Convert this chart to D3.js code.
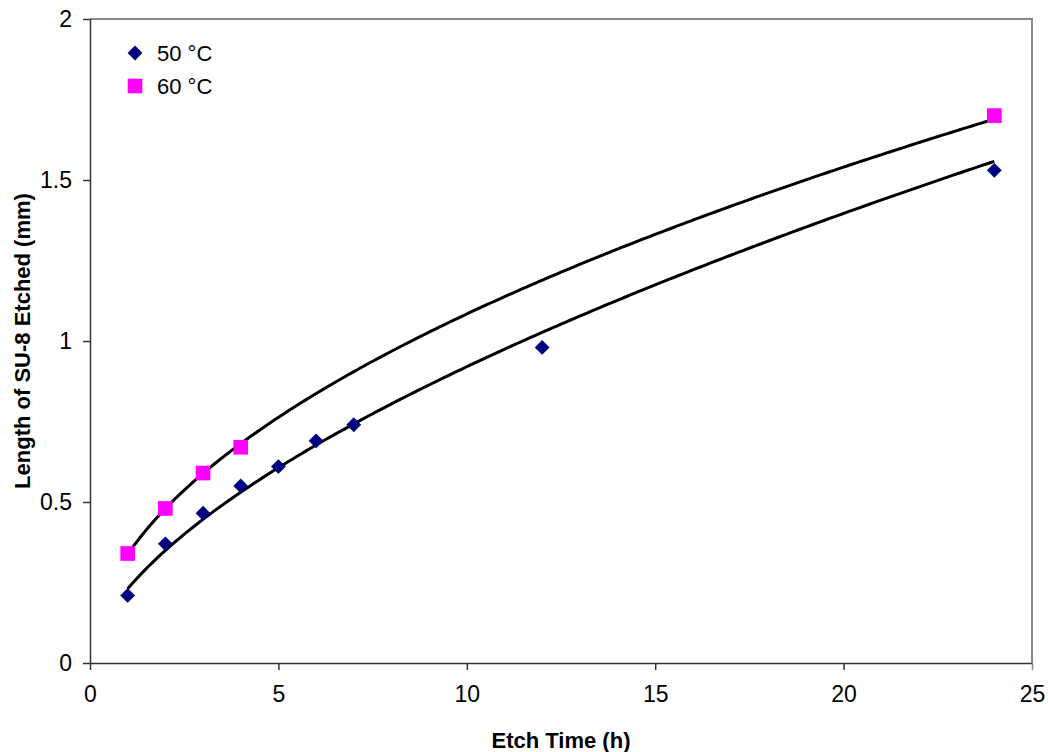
<!DOCTYPE html>
<html>
<head>
<meta charset="utf-8">
<script src="https://cdn.jsdelivr.net/npm/d3@7"></script>
<style>
  body { margin: 0; background: #fff; }
  svg { font-family: "Liberation Sans", Arial, sans-serif; }
</style>
</head>
<body>
<svg width="1048" height="752"></svg>
<script>
// data
const time50 = [1, 2, 3, 4, 5, 6, 7, 12, 24];
const len50 = [0.21, 0.37, 0.465, 0.55, 0.61, 0.69, 0.74, 0.98, 1.53];
const time60 = [1, 2, 3, 4, 24];
const len60 = [0.34, 0.48, 0.59, 0.67, 1.70];
const xTicks = [0, 5, 10, 15, 20, 25];
const yTicks = [0, 0.5, 1, 1.5, 2];

// plot box
const margin = {top: 19, right: 16, bottom: 89, left: 90};
const width = 1048 - margin.left - margin.right;
const height = 752 - margin.top - margin.bottom;

const x = d3.scaleLinear().domain([0, 25]).range([0, width]);
const y = d3.scaleLinear().domain([0, 2]).range([height, 0]);

const svg = d3.select("svg")
  .append("g")
  .attr("transform", "translate(" + margin.left + "," + margin.top + ")");

// gray frame on top and right
svg.append("path")
  .attr("d", "M0,0H" + width + "V" + height)
  .attr("fill", "none")
  .attr("stroke", "#888")
  .attr("stroke-width", 2);

// axes
const xAxis = d3.axisBottom(x).tickValues(xTicks).tickSize(7).tickPadding(16).tickSizeOuter(0);
const yAxis = d3.axisLeft(y).tickValues(yTicks).tickSize(7).tickPadding(11).tickSizeOuter(0)
  .tickFormat(d => d);

const gx = svg.append("g")
  .attr("transform", "translate(0," + height + ")")
  .call(xAxis);
const gy = svg.append("g").call(yAxis);

[gx, gy].forEach(g => {
  g.selectAll("path, line").attr("stroke", "#333").attr("stroke-width", 1.5);
  g.selectAll("text").attr("font-size", 23).attr("fill", "#000");
});
gx.select(".tick:last-of-type line").attr("stroke", "#888");

// power-law trendlines (least squares in log-log space, like a spreadsheet fit)
function powerFit(xs, ys) {
  const lx = xs.map(Math.log), ly = ys.map(Math.log);
  const mx = d3.mean(lx), my = d3.mean(ly);
  const b = d3.sum(lx, (v, i) => (v - mx) * (ly[i] - my)) / d3.sum(lx, v => (v - mx) * (v - mx));
  const a = Math.exp(my - b * mx);
  return t => a * Math.pow(t, b);
}

const line = d3.line()
  .x(d => x(d[0]))
  .y(d => y(d[1]));

[[time50, len50], [time60, len60]].forEach(([ts, ls]) => {
  const f = powerFit(ts, ls);
  const lo = d3.min(ts), hi = d3.max(ts);
  const pts = d3.range(0, 201).map(i => {
    const t = lo + (hi - lo) * i / 200;
    return [t, f(t)];
  });
  svg.append("path")
    .datum(pts)
    .attr("d", line)
    .attr("fill", "none")
    .attr("stroke", "#000")
    .attr("stroke-width", 3);
});

// markers
const diamond = d3.symbol().type(d3.symbolSquare).size(110);
const square = d3.symbol().type(d3.symbolSquare).size(215);

svg.selectAll(".m50")
  .data(time50.map((t, i) => [t, len50[i]]))
  .enter()
  .append("path")
  .attr("class", "m50")
  .attr("transform", d => "translate(" + x(d[0]) + "," + y(d[1]) + ") rotate(45)")
  .attr("d", diamond)
  .attr("fill", "#000080");

svg.selectAll(".m60")
  .data(time60.map((t, i) => [t, len60[i]]))
  .enter()
  .append("path")
  .attr("class", "m60")
  .attr("transform", d => "translate(" + x(d[0]) + "," + y(d[1]) + ")")
  .attr("d", square)
  .attr("fill", "#ff00ff");

// legend
const legend = svg.append("g").attr("transform", "translate(45,34)");
legend.append("path")
  .attr("transform", "rotate(45)")
  .attr("d", diamond)
  .attr("fill", "#000080");
legend.append("text").attr("x", 22).attr("y", 8).attr("font-size", 22).text("50 °C");
legend.append("path")
  .attr("transform", "translate(0,33)")
  .attr("d", square)
  .attr("fill", "#ff00ff");
legend.append("text").attr("x", 22).attr("y", 41).attr("font-size", 22).text("60 °C");

// axis titles
svg.append("text")
  .attr("x", width / 2)
  .attr("y", height + 85)
  .attr("text-anchor", "middle")
  .attr("font-size", 22)
  .attr("font-weight", "bold")
  .text("Etch Time (h)");

svg.append("text")
  .attr("transform", "rotate(-90)")
  .attr("x", -height / 2)
  .attr("y", -60)
  .attr("text-anchor", "middle")
  .attr("font-size", 22)
  .attr("font-weight", "bold")
  .text("Length of SU-8 Etched (mm)");
</script>
</body>
</html>
